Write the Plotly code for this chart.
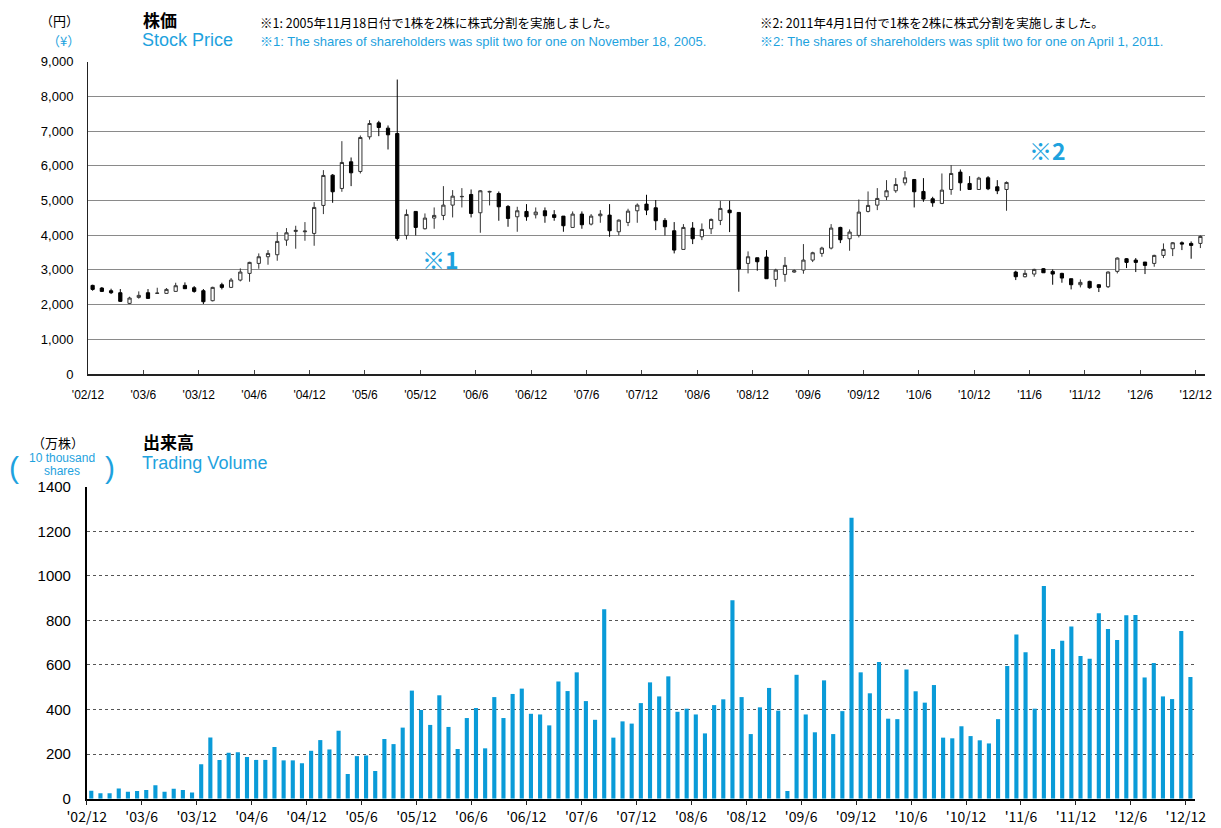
import plotly.graph_objects as go

# ---------------- data (monthly, Dec 2002 .. Dec 2012) ----------------
month_idx = list(range(121))

price_open = [2554, 2477, 2400, 2342, 2035, 2208, 2342, 2323, 2323, 2381, 2554, 2486,
              2400, 2112, 2573, 2496, 2707, 2899, 3187, 3379, 3437, 3859, 4109, 4099,
              4051, 4858, 5731, 5347, 6115, 5837, 6835, 7238, 7085, 6931, 3994, 4685,
              4186, 4493, 4570, 4867, 5107, 5174, 4646, 5242, 5203, 4829, 4531, 4685,
              4589, 4704, 4589, 4550, 4224, 4608, 4320, 4560, 4579, 4099, 4368, 4704,
              4896, 4790, 4426, 4128, 3590, 4205, 3955, 4186, 4426, 4723, 4656, 3187,
              3350, 3370, 2726, 2870, 2938, 2995, 3283, 3475, 3629, 4224, 3898, 3994,
              4685, 4867, 5107, 5280, 5510, 5606, 5261, 5050, 4915, 5318, 5818, 5491,
              5318, 5654, 5395, 5318, 2938, 2803, 2880, 3034, 2957, 2899, 2746, 2573,
              2669, 2573, 2515, 2957, 3322, 3283, 3226, 3187, 3418, 3610, 3782, 3763,
              3763]
price_high = [2573, 2506, 2458, 2448, 2227, 2381, 2448, 2486, 2477, 2630, 2640, 2534,
              2448, 2515, 2630, 2765, 3043, 3235, 3475, 3571, 4090, 4205, 4272, 4378,
              4954, 5875, 5760, 6710, 6240, 6874, 7315, 7296, 7162, 8486, 4742, 4685,
              4627, 4800, 5414, 5299, 5357, 5318, 5299, 5280, 5261, 4867, 4819, 4896,
              4800, 4800, 4723, 4550, 4685, 4685, 4608, 4723, 4896, 4454, 4762, 4915,
              5165, 5011, 4493, 4378, 4320, 4378, 4339, 4483, 4992, 4992, 4656, 3533,
              3350, 3571, 3034, 3370, 3014, 3744, 3523, 3667, 4320, 4243, 4166, 5030,
              5261, 5357, 5587, 5645, 5846, 5606, 5645, 5107, 5779, 6019, 5894, 5702,
              5683, 5702, 5587, 5549, 2976, 2995, 3034, 3053, 3014, 2918, 2746, 2726,
              2688, 2592, 2957, 3360, 3341, 3341, 3226, 3437, 3763, 3802, 3821, 3821,
              3994]
price_low = [2400, 2362, 2304, 2074, 2016, 2170, 2170, 2318, 2318, 2375, 2450, 2342,
             2016, 2093, 2438, 2477, 2669, 2659, 3034, 3149, 3264, 3696, 3610, 3840,
             3696, 4608, 4934, 5251, 5414, 5779, 6758, 6854, 6470, 3840, 3878, 3994,
             4166, 4186, 4435, 4512, 4800, 4512, 4070, 4858, 4416, 4243, 4099, 4416,
             4483, 4358, 4416, 4099, 4224, 4186, 4282, 4358, 3955, 3994, 4262, 4358,
             4579, 4147, 3994, 3475, 3590, 3744, 3859, 4032, 4291, 4090, 2371, 2899,
             2976, 2746, 2515, 2659, 2918, 2890, 3226, 3379, 3590, 3773, 3552, 3936,
             4656, 4723, 5011, 5222, 5434, 4800, 4963, 4819, 4896, 5165, 5280, 5318,
             5318, 5299, 5184, 4704, 2707, 2784, 2803, 2918, 2573, 2630, 2438, 2496,
             2458, 2362, 2477, 2899, 3053, 2938, 2880, 3091, 3341, 3398, 3571, 3322,
             3629]
price_close = [2438, 2381, 2342, 2093, 2189, 2266, 2179, 2330, 2438, 2544, 2458, 2381,
               2083, 2496, 2496, 2707, 2938, 3216, 3379, 3475, 3821, 4070, 4138, 4118,
               4800, 5722, 5251, 6096, 5798, 6816, 7219, 7104, 6893, 3907, 4598, 4224,
               4493, 4570, 4867, 5126, 5117, 4627, 5280, 5261, 4819, 4483, 4704, 4531,
               4666, 4560, 4512, 4272, 4608, 4301, 4550, 4608, 4128, 4435, 4694, 4867,
               4723, 4416, 4243, 3571, 4224, 3898, 4166, 4454, 4771, 4646, 3024, 3379,
               3235, 2746, 2995, 3130, 2976, 3283, 3494, 3629, 4205, 3869, 4090, 4666,
               4858, 5059, 5280, 5462, 5654, 5251, 5040, 4934, 5299, 5779, 5510, 5318,
               5645, 5338, 5280, 5520, 2803, 2899, 3014, 2918, 2880, 2765, 2573, 2640,
               2486, 2496, 2938, 3341, 3216, 3216, 3130, 3418, 3590, 3782, 3744, 3706,
               3965]

volume = [36, 24, 24, 46, 31, 34, 39, 60, 31, 45, 39, 28,
          155, 275, 174, 206, 208, 187, 174, 174, 232, 172, 172,
          159, 215, 263, 221, 305, 111, 191, 194, 124, 268, 245, 319, 485, 398, 331,
          464, 322, 223, 362, 407, 226, 456, 362, 470, 494, 381, 378, 329, 526, 483,
          567, 438, 354,
          850, 274, 347, 337, 429, 522, 459, 549, 390, 404, 378, 293, 420, 446, 890,
          456, 290, 410, 497, 395, 34, 556, 378, 298, 531, 290, 393, 1261, 567, 473,
          613, 359, 357,
          580, 482, 431, 510, 274, 271, 325, 281, 262, 248, 357, 595, 737, 657, 404,
          954, 672, 709, 773, 640, 628, 832, 761, 712, 823, 824, 544, 609, 459, 447,
          752, 546]

tick_labels = ["'02/12", "'03/6", "'03/12", "'04/6", "'04/12", "'05/6", "'05/12",
               "'06/6", "'06/12", "'07/6", "'07/12", "'08/6", "'08/12", "'09/6",
               "'09/12", "'10/6", "'10/12", "'11/6", "'11/12", "'12/6", "'12/12"]
tick_pos = [-0.5 + 6 * k for k in range(len(tick_labels))]

# ---------------- styling ----------------
# the page body has an 8px margin, so the figure is drawn 8px in from the corner
OFF = 8
W, H = 1221 - OFF, 828 - OFF
CYAN = "#1EA2DE"
BAR = "#0A9BD8"
FONT = "Liberation Sans, Arial, Noto Sans CJK JP"
JFONT = "Noto Sans CJK JP, Liberation Sans"


def px(x):
    return (x - OFF) / W


def py(y):
    return 1 - (y - OFF) / H


fig = go.Figure()

fig.add_trace(go.Candlestick(
    x=month_idx, open=price_open, high=price_high, low=price_low, close=price_close,
    increasing=dict(fillcolor="white", line=dict(color="#333333", width=1)),
    decreasing=dict(fillcolor="black", line=dict(color="black", width=1)),
    whiskerwidth=0, xaxis="x", yaxis="y", showlegend=False,
))

fig.add_trace(go.Bar(
    x=month_idx, y=volume, marker=dict(color=BAR, line=dict(width=0)),
    width=0.45, xaxis="x2", yaxis="y2", showlegend=False,
))

fig.update_layout(
    template="none",
    width=W, height=H, autosize=False,
    margin=dict(l=0, r=0, t=0, b=0, autoexpand=False),
    paper_bgcolor="white", plot_bgcolor="white",
    boxgap=0.5, showlegend=False,
    font=dict(family=FONT, color="black", size=12),
    xaxis=dict(
        domain=[px(88), px(1205)], anchor="y", range=[-0.5, 120.5],
        tickmode="array", tickvals=tick_pos, ticktext=tick_labels,
        ticks="inside", ticklen=4, tickcolor="#444", showgrid=False,
        showline=True, linecolor="#222", linewidth=1.5, zeroline=False,
        rangeslider=dict(visible=False), tickfont=dict(size=12),
        ticklabelstandoff=9, automargin=False,
    ),
    yaxis=dict(
        domain=[py(374), py(61.7)], anchor="x", range=[0, 9000], dtick=1000,
        tickformat=",", showgrid=True, gridcolor="#8a8a8a", gridwidth=1,
        showline=True, linecolor="#222", linewidth=1, zeroline=False,
        ticks="", tickfont=dict(size=13), ticklabelstandoff=11, automargin=False,
    ),
    xaxis2=dict(
        domain=[px(86.7), px(1195)], anchor="y2", range=[-0.5, 120.5],
        tickmode="array", tickvals=tick_pos, ticktext=tick_labels,
        ticks="outside", ticklen=5, tickcolor="#222", showgrid=False,
        showline=True, linecolor="black", linewidth=1.5, zeroline=False,
        tickfont=dict(size=14, family=JFONT), ticklabelstandoff=0,
        automargin=False,
    ),
    yaxis2=dict(
        domain=[py(798.7), py(486.7)], anchor="x2", range=[0, 1400], dtick=200,
        showgrid=True, gridcolor="#555", gridwidth=1, griddash="dot",
        showline=True, linecolor="black", linewidth=1.5, zeroline=False,
        ticks="", tickfont=dict(size=15), ticklabelstandoff=11, automargin=False,
    ),
)


def note(text, x, y, size, color="black", anchor="left", bold=False, family=JFONT):
    if bold:
        text = "<b>" + text + "</b>"
    fig.add_annotation(text=text, x=px(x), y=py(y), xref="paper", yref="paper",
                       xanchor=anchor, yanchor="middle", showarrow=False,
                       borderpad=0,
                       font=dict(size=size, color=color, family=family))


# top header
note("（円）", 59, 20, 13, anchor="center")
note("（¥）", 63, 40, 13, CYAN, anchor="center")
note("株価", 142, 19, 17, bold=True)
note("Stock Price", 141, 40, 18, CYAN, family=FONT)
note("※1: 2005年11月18日付で1株を2株に株式分割を実施しました。", 259, 22, 12.5)
note("※1: The shares of shareholders was split two for one on November 18, 2005.",
     259, 41, 13, CYAN, family=FONT)
note("※2: 2011年4月1日付で1株を2株に株式分割を実施しました。", 759, 22, 12.5)
note("※2: The shares of shareholders was split two for one on April 1, 2011.",
     759, 41, 13, CYAN, family=FONT)
note("※1", 421, 259, 23, CYAN, bold=True)
note("※2", 1028, 150, 23, CYAN, bold=True)

# bottom header
note("（万株）", 58, 442, 13, anchor="center")
note("10 thousand", 62, 458, 12, CYAN, anchor="center", family=FONT)
note("shares", 62, 471, 12, CYAN, anchor="center", family=FONT)
note("(", 14, 467, 30, CYAN, anchor="center", family=FONT)
note(")", 110, 467, 30, CYAN, anchor="center", family=FONT)
note("出来高", 142, 441, 17, bold=True)
note("Trading Volume", 141, 463, 18, CYAN, family=FONT)

fig.write_html("out.html")
